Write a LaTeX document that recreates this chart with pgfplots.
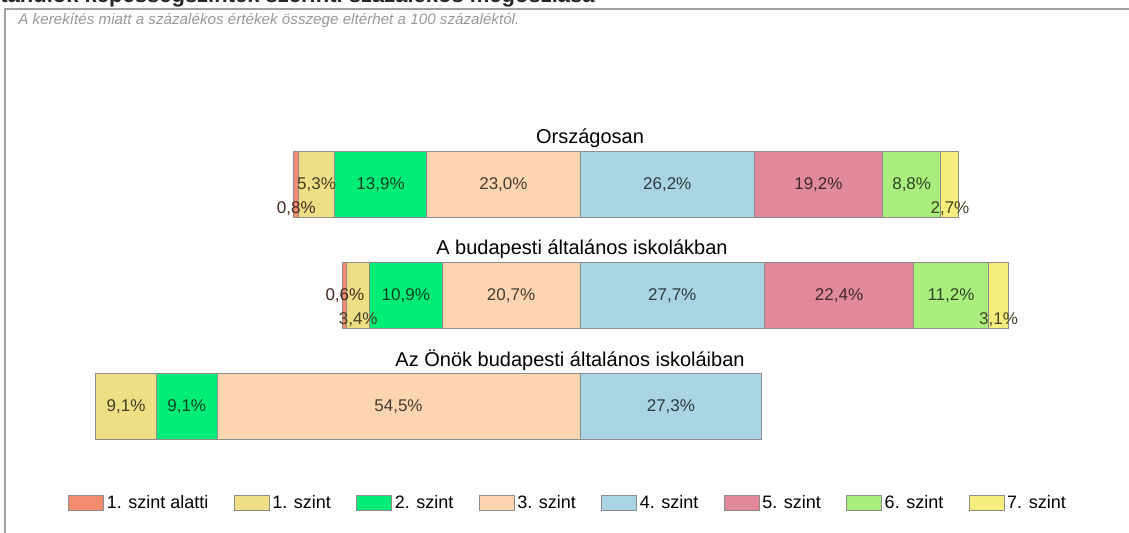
\documentclass[border=0pt]{standalone}
\usepackage{fontspec}
\setmainfont{Liberation Sans}
\usepackage{pgfplots}
\pgfplotsset{compat=1.18}
\usepackage{pgfplotstable}

\definecolor{c0}{HTML}{F58C6E}
\definecolor{c1}{HTML}{EEDF85}
\definecolor{c2}{HTML}{00EE78}
\definecolor{c3}{HTML}{FDD5B2}
\definecolor{c4}{HTML}{A9D4E4}
\definecolor{c5}{HTML}{E18A9C}
\definecolor{c6}{HTML}{AAEF7E}
\definecolor{c7}{HTML}{F6EE7C}
\definecolor{framegray}{HTML}{A0A0A0}

% x axis runs 0..160, the 3./4. szint border sits at 80
% off = empty space before each bar, d* = vertical shift of the small labels
\pgfplotstableread{
y off s0 s1 s2 s3 s4 s5 s6 s7 d0 d1 d7 dz
3 37.0 0.8 5.3 13.9 23.0 26.2 19.2 8.8 2.7 -12 0 -12 0
2 44.4 0.6 3.4 10.9 20.7 27.7 22.4 11.2 3.1 0 -12 -12 0
1 7.3 0 9.1 9.1 54.5 27.3 0 0 0 0 0 0 0
}\levels

\pgfplotsset{
  seg/.style n args={3}{
    fill=#1, draw=black!45, line width=0.5pt,
    visualization depends on={\thisrow{#2}\as\rawv},
    visualization depends on={\thisrow{#3}\as\dy},
    nodes near coords={\ifdim\rawv pt>0pt \pgfmathprintnumber[fixed,fixed zerofill,precision=1,use comma]{\rawv}\%\fi},
    every node near coord/.append style={anchor=center, inner sep=0pt,
      font=\fontsize{8.5}{10}\selectfont, text=#1!28!black, yshift=\dy pt},
  },
}

\begin{document}
\begin{tikzpicture}
\begin{axis}[
  at={(23.6pt,7.5pt)}, anchor=south west,
  scale only axis, width=532.8pt, height=222pt,
  xbar stacked, bar width=33pt,
  xmin=0, xmax=160, ymin=0, ymax=4,
  hide axis, clip=false,
  /pgf/number format/assume math mode=true,
  legend columns=8,
  legend style={at={(0.0195,0.0338)}, anchor=west, draw=none, fill=none, inner sep=0pt,
    font=\fontsize{9}{10}\selectfont,
    nodes={inner sep=1.2pt},
    /tikz/every even column/.append style={column sep=11.5pt}},
  legend image code/.code={\draw[#1] (0pt,-3.75pt) rectangle (17.5pt,3.75pt);},
]
\addplot[draw=none, fill=none, forget plot] table[x=off, y=y] {\levels};
\addplot[seg={c0}{s0}{d0}] table[x=s0, y=y] {\levels};
\addplot[seg={c1}{s1}{d1}] table[x=s1, y=y] {\levels};
\addplot[seg={c2}{s2}{dz}] table[x=s2, y=y] {\levels};
\addplot[seg={c3}{s3}{dz}] table[x=s3, y=y] {\levels};
\addplot[seg={c4}{s4}{dz}] table[x=s4, y=y] {\levels};
\addplot[seg={c5}{s5}{dz}] table[x=s5, y=y] {\levels};
\addplot[seg={c6}{s6}{dz}] table[x=s6, y=y] {\levels};
\addplot[seg={c7}{s7}{d7}] table[x=s7, y=y] {\levels};
\legend{1. szint alatti, 1. szint, 2. szint, 3. szint, 4. szint, 5. szint, 6. szint, 7. szint}

\node[font=\fontsize{10}{12}\selectfont] at (axis cs:81.5,3.42) {Országosan};
\node[font=\fontsize{10}{12}\selectfont] at (axis cs:80.3,2.42) {A budapesti általános iskolákban};
\node[font=\fontsize{10}{12}\selectfont] at (axis cs:78.5,1.42) {Az Önök budapesti általános iskoláiban};
\end{axis}

\draw[framegray, line width=1pt] (2.5pt,0pt) -- (2.5pt,262pt) -- (564.5pt,262pt);
\node[anchor=base west, inner sep=0pt, font=\bfseries\fontsize{11}{13}\selectfont, text=black!85]
  at (0pt,265pt) {tanulók képességszintek szerinti százalékos megoszlása};
\node[anchor=base west, inner sep=0pt, font=\itshape\fontsize{7.6}{9}\selectfont, text=black!40]
  at (9pt,254pt) {A kerekítés miatt a százalékos értékek összege eltérhet a 100 százaléktól.};

\pgfresetboundingbox
\useasboundingbox (0pt,0pt) rectangle (564.5pt,266.5pt);
\end{tikzpicture}
\end{document}
